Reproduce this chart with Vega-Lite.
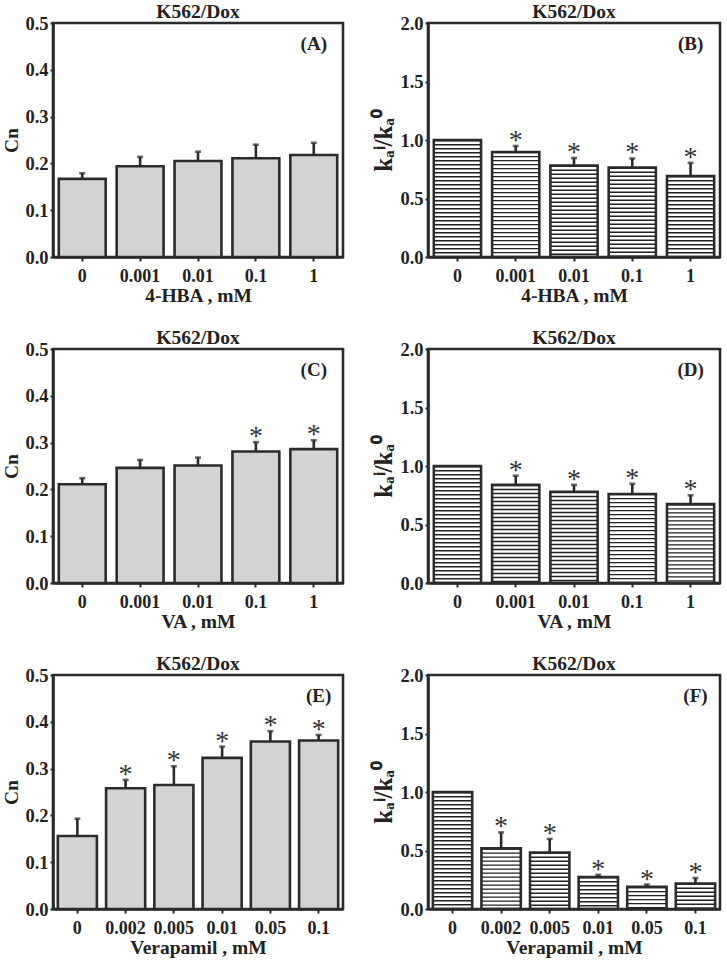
{
  "$schema": "https://vega.github.io/schema/vega-lite/v6.json",
  "background": "white",
  "padding": {"left": 0, "top": 0, "right": 5, "bottom": 0},
  "datasets": {
    "cn": [
      {"panel": "A", "conc": "0", "v": 0.167, "e": 0.179, "sig": false},
      {"panel": "A", "conc": "0.001", "v": 0.194, "e": 0.214, "sig": false},
      {"panel": "A", "conc": "0.01", "v": 0.205, "e": 0.225, "sig": false},
      {"panel": "A", "conc": "0.1", "v": 0.211, "e": 0.240, "sig": false},
      {"panel": "A", "conc": "1", "v": 0.218, "e": 0.244, "sig": false},
      {"panel": "C", "conc": "0", "v": 0.211, "e": 0.224, "sig": false},
      {"panel": "C", "conc": "0.001", "v": 0.246, "e": 0.263, "sig": false},
      {"panel": "C", "conc": "0.01", "v": 0.251, "e": 0.268, "sig": false},
      {"panel": "C", "conc": "0.1", "v": 0.281, "e": 0.301, "sig": true},
      {"panel": "C", "conc": "1", "v": 0.286, "e": 0.305, "sig": true},
      {"panel": "E", "conc": "0", "v": 0.156, "e": 0.193, "sig": false},
      {"panel": "E", "conc": "0.002", "v": 0.258, "e": 0.276, "sig": true},
      {"panel": "E", "conc": "0.005", "v": 0.265, "e": 0.305, "sig": true},
      {"panel": "E", "conc": "0.01", "v": 0.323, "e": 0.347, "sig": true},
      {"panel": "E", "conc": "0.05", "v": 0.358, "e": 0.380, "sig": true},
      {"panel": "E", "conc": "0.1", "v": 0.360, "e": 0.372, "sig": true}
    ],
    "ka": [
      {"panel": "B", "conc": "0", "v": 1.0, "e": null, "sig": false},
      {"panel": "B", "conc": "0.001", "v": 0.898, "e": 0.949, "sig": true},
      {"panel": "B", "conc": "0.01", "v": 0.782, "e": 0.847, "sig": true},
      {"panel": "B", "conc": "0.1", "v": 0.765, "e": 0.842, "sig": true},
      {"panel": "B", "conc": "1", "v": 0.692, "e": 0.805, "sig": true},
      {"panel": "D", "conc": "0", "v": 1.0, "e": null, "sig": false},
      {"panel": "D", "conc": "0.001", "v": 0.839, "e": 0.917, "sig": true},
      {"panel": "D", "conc": "0.01", "v": 0.780, "e": 0.839, "sig": true},
      {"panel": "D", "conc": "0.1", "v": 0.761, "e": 0.848, "sig": true},
      {"panel": "D", "conc": "1", "v": 0.674, "e": 0.750, "sig": true},
      {"panel": "F", "conc": "0", "v": 1.0, "e": null, "sig": false},
      {"panel": "F", "conc": "0.002", "v": 0.518, "e": 0.655, "sig": true},
      {"panel": "F", "conc": "0.005", "v": 0.482, "e": 0.599, "sig": true},
      {"panel": "F", "conc": "0.01", "v": 0.273, "e": 0.292, "sig": true},
      {"panel": "F", "conc": "0.05", "v": 0.189, "e": 0.209, "sig": true},
      {"panel": "F", "conc": "0.1", "v": 0.217, "e": 0.265, "sig": true}
    ]
  },
  "spacing": 20,
  "vconcat": [
    {
      "spacing": 25,
      "hconcat": [
        {
          "width": 290, "height": 234,
          "title": {"text": "K562/Dox"},
          "data": {"name": "cn"},
          "transform": [{"filter": "datum.panel === 'A'"}],
          "encoding": {"x": {"field": "conc", "type": "nominal", "sort": null, "scale": {"paddingInner": 0.19, "paddingOuter": 0.1}, "axis": {"title": "4-HBA , mM"}}},
          "layer": [
            {"mark": {"type": "bar", "fill": "#d3d3d3", "stroke": "#2b2b2b", "strokeWidth": 2.6},
             "encoding": {"y": {"field": "v", "type": "quantitative", "scale": {"domain": [0, 0.5]},
               "axis": {"title": "Cn", "values": [0, 0.05, 0.1, 0.15, 0.2, 0.25, 0.3, 0.35, 0.4, 0.45, 0.5],
                 "labelExpr": "abs(datum.value*10 - round(datum.value*10)) > 0.01 ? '' : format(datum.value, '.1f')",
                 "tickSize": {"condition": {"test": "abs(datum.value*10 - round(datum.value*10)) > 0.01", "value": 2}, "value": 3}}}}},
            {"mark": {"type": "rule", "strokeWidth": 2.6, "color": "#2b2b2b"},
             "encoding": {"y": {"field": "v", "type": "quantitative"}, "y2": {"field": "e"}}},
            {"mark": {"type": "tick", "size": 6, "thickness": 2.6, "color": "#2b2b2b"},
             "encoding": {"y": {"field": "e", "type": "quantitative"}}},
            {"transform": [{"filter": "datum.sig"}],
             "mark": {"type": "text", "text": "*", "fontSize": 28, "fontWeight": "normal", "baseline": "alphabetic", "dy": 3, "fill": "#333"},
             "encoding": {"y": {"field": "e", "type": "quantitative"}}},
            {"data": {"values": [{"label": "(A)"}]},
             "mark": {"type": "text", "fontSize": 19, "fontWeight": "bold", "baseline": "middle", "fill": "#222"},
             "encoding": {"x": {"datum": "1"}, "y": {"datum": 0.455, "type": "quantitative"}, "text": {"field": "label"}}}
          ]
        },
        {
          "width": 292, "height": 234,
          "title": {"text": "K562/Dox"},
          "data": {"name": "ka"},
          "transform": [{"filter": "datum.panel === 'B'"}],
          "encoding": {"x": {"field": "conc", "type": "nominal", "sort": null, "scale": {"paddingInner": 0.19, "paddingOuter": 0.1}, "axis": {"title": "4-HBA , mM"}}},
          "layer": [
            {"mark": {"type": "rule", "strokeWidth": 47, "strokeDash": [1.4, 2.6], "strokeCap": "butt", "color": "#222"},
             "encoding": {"y": {"field": "v", "type": "quantitative", "scale": {"domain": [0, 2]},
               "axis": {"title": "kₐⁱ/kₐ⁰", "titleFontSize": 25, "values": [0, 0.25, 0.5, 0.75, 1, 1.25, 1.5, 1.75, 2],
                 "labelExpr": "abs(datum.value*2 - round(datum.value*2)) > 0.01 ? '' : format(datum.value, '.1f')",
                 "tickSize": {"condition": {"test": "abs(datum.value*2 - round(datum.value*2)) > 0.01", "value": 2}, "value": 3}}},
               "y2": {"datum": 0}}},
            {"mark": {"type": "bar", "fill": "white", "fillOpacity": 0, "stroke": "#2b2b2b", "strokeWidth": 2.6},
             "encoding": {"y": {"field": "v", "type": "quantitative"}}},
            {"mark": {"type": "rule", "strokeWidth": 2.6, "color": "#2b2b2b"},
             "encoding": {"y": {"field": "v", "type": "quantitative"}, "y2": {"field": "e"}}},
            {"mark": {"type": "tick", "size": 6, "thickness": 2.6, "color": "#2b2b2b"},
             "encoding": {"y": {"field": "e", "type": "quantitative"}}},
            {"transform": [{"filter": "datum.sig"}],
             "mark": {"type": "text", "text": "*", "fontSize": 28, "fontWeight": "normal", "baseline": "alphabetic", "dy": 3, "fill": "#333"},
             "encoding": {"y": {"field": "e", "type": "quantitative"}}},
            {"data": {"values": [{"label": "(B)"}]},
             "mark": {"type": "text", "fontSize": 19, "fontWeight": "bold", "baseline": "middle", "fill": "#222"},
             "encoding": {"x": {"datum": "1"}, "y": {"datum": 1.82, "type": "quantitative"}, "text": {"field": "label"}}}
          ]
        }
      ]
    },
    {
      "spacing": 25,
      "hconcat": [
        {
          "width": 290, "height": 234,
          "title": {"text": "K562/Dox"},
          "data": {"name": "cn"},
          "transform": [{"filter": "datum.panel === 'C'"}],
          "encoding": {"x": {"field": "conc", "type": "nominal", "sort": null, "scale": {"paddingInner": 0.19, "paddingOuter": 0.1}, "axis": {"title": "VA , mM"}}},
          "layer": [
            {"mark": {"type": "bar", "fill": "#d3d3d3", "stroke": "#2b2b2b", "strokeWidth": 2.6},
             "encoding": {"y": {"field": "v", "type": "quantitative", "scale": {"domain": [0, 0.5]},
               "axis": {"title": "Cn", "values": [0, 0.05, 0.1, 0.15, 0.2, 0.25, 0.3, 0.35, 0.4, 0.45, 0.5],
                 "labelExpr": "abs(datum.value*10 - round(datum.value*10)) > 0.01 ? '' : format(datum.value, '.1f')",
                 "tickSize": {"condition": {"test": "abs(datum.value*10 - round(datum.value*10)) > 0.01", "value": 2}, "value": 3}}}}},
            {"mark": {"type": "rule", "strokeWidth": 2.6, "color": "#2b2b2b"},
             "encoding": {"y": {"field": "v", "type": "quantitative"}, "y2": {"field": "e"}}},
            {"mark": {"type": "tick", "size": 6, "thickness": 2.6, "color": "#2b2b2b"},
             "encoding": {"y": {"field": "e", "type": "quantitative"}}},
            {"transform": [{"filter": "datum.sig"}],
             "mark": {"type": "text", "text": "*", "fontSize": 28, "fontWeight": "normal", "baseline": "alphabetic", "dy": 3, "fill": "#333"},
             "encoding": {"y": {"field": "e", "type": "quantitative"}}},
            {"data": {"values": [{"label": "(C)"}]},
             "mark": {"type": "text", "fontSize": 19, "fontWeight": "bold", "baseline": "middle", "fill": "#222"},
             "encoding": {"x": {"datum": "1"}, "y": {"datum": 0.455, "type": "quantitative"}, "text": {"field": "label"}}}
          ]
        },
        {
          "width": 292, "height": 234,
          "title": {"text": "K562/Dox"},
          "data": {"name": "ka"},
          "transform": [{"filter": "datum.panel === 'D'"}],
          "encoding": {"x": {"field": "conc", "type": "nominal", "sort": null, "scale": {"paddingInner": 0.19, "paddingOuter": 0.1}, "axis": {"title": "VA , mM"}}},
          "layer": [
            {"mark": {"type": "rule", "strokeWidth": 47, "strokeDash": [1.4, 2.6], "strokeCap": "butt", "color": "#222"},
             "encoding": {"y": {"field": "v", "type": "quantitative", "scale": {"domain": [0, 2]},
               "axis": {"title": "kₐⁱ/kₐ⁰", "titleFontSize": 25, "values": [0, 0.25, 0.5, 0.75, 1, 1.25, 1.5, 1.75, 2],
                 "labelExpr": "abs(datum.value*2 - round(datum.value*2)) > 0.01 ? '' : format(datum.value, '.1f')",
                 "tickSize": {"condition": {"test": "abs(datum.value*2 - round(datum.value*2)) > 0.01", "value": 2}, "value": 3}}},
               "y2": {"datum": 0}}},
            {"mark": {"type": "bar", "fill": "white", "fillOpacity": 0, "stroke": "#2b2b2b", "strokeWidth": 2.6},
             "encoding": {"y": {"field": "v", "type": "quantitative"}}},
            {"mark": {"type": "rule", "strokeWidth": 2.6, "color": "#2b2b2b"},
             "encoding": {"y": {"field": "v", "type": "quantitative"}, "y2": {"field": "e"}}},
            {"mark": {"type": "tick", "size": 6, "thickness": 2.6, "color": "#2b2b2b"},
             "encoding": {"y": {"field": "e", "type": "quantitative"}}},
            {"transform": [{"filter": "datum.sig"}],
             "mark": {"type": "text", "text": "*", "fontSize": 28, "fontWeight": "normal", "baseline": "alphabetic", "dy": 3, "fill": "#333"},
             "encoding": {"y": {"field": "e", "type": "quantitative"}}},
            {"data": {"values": [{"label": "(D)"}]},
             "mark": {"type": "text", "fontSize": 19, "fontWeight": "bold", "baseline": "middle", "fill": "#222"},
             "encoding": {"x": {"datum": "1"}, "y": {"datum": 1.82, "type": "quantitative"}, "text": {"field": "label"}}}
          ]
        }
      ]
    },
    {
      "spacing": 25,
      "hconcat": [
        {
          "width": 290, "height": 234,
          "title": {"text": "K562/Dox"},
          "data": {"name": "cn"},
          "transform": [{"filter": "datum.panel === 'E'"}],
          "encoding": {"x": {"field": "conc", "type": "nominal", "sort": null, "scale": {"paddingInner": 0.19, "paddingOuter": 0.1}, "axis": {"title": "Verapamil , mM"}}},
          "layer": [
            {"mark": {"type": "bar", "fill": "#d3d3d3", "stroke": "#2b2b2b", "strokeWidth": 2.6},
             "encoding": {"y": {"field": "v", "type": "quantitative", "scale": {"domain": [0, 0.5]},
               "axis": {"title": "Cn", "values": [0, 0.05, 0.1, 0.15, 0.2, 0.25, 0.3, 0.35, 0.4, 0.45, 0.5],
                 "labelExpr": "abs(datum.value*10 - round(datum.value*10)) > 0.01 ? '' : format(datum.value, '.1f')",
                 "tickSize": {"condition": {"test": "abs(datum.value*10 - round(datum.value*10)) > 0.01", "value": 2}, "value": 3}}}}},
            {"mark": {"type": "rule", "strokeWidth": 2.6, "color": "#2b2b2b"},
             "encoding": {"y": {"field": "v", "type": "quantitative"}, "y2": {"field": "e"}}},
            {"mark": {"type": "tick", "size": 6, "thickness": 2.6, "color": "#2b2b2b"},
             "encoding": {"y": {"field": "e", "type": "quantitative"}}},
            {"transform": [{"filter": "datum.sig"}],
             "mark": {"type": "text", "text": "*", "fontSize": 28, "fontWeight": "normal", "baseline": "alphabetic", "dy": 3, "fill": "#333"},
             "encoding": {"y": {"field": "e", "type": "quantitative"}}},
            {"data": {"values": [{"label": "(E)"}]},
             "mark": {"type": "text", "fontSize": 19, "fontWeight": "bold", "baseline": "middle", "fill": "#222"},
             "encoding": {"x": {"datum": "0.1"}, "y": {"datum": 0.455, "type": "quantitative"}, "text": {"field": "label"}}}
          ]
        },
        {
          "width": 292, "height": 234,
          "title": {"text": "K562/Dox"},
          "data": {"name": "ka"},
          "transform": [{"filter": "datum.panel === 'F'"}],
          "encoding": {"x": {"field": "conc", "type": "nominal", "sort": null, "scale": {"paddingInner": 0.19, "paddingOuter": 0.1}, "axis": {"title": "Verapamil , mM"}}},
          "layer": [
            {"mark": {"type": "rule", "strokeWidth": 39, "strokeDash": [1.4, 2.6], "strokeCap": "butt", "color": "#222"},
             "encoding": {"y": {"field": "v", "type": "quantitative", "scale": {"domain": [0, 2]},
               "axis": {"title": "kₐⁱ/kₐ⁰", "titleFontSize": 25, "values": [0, 0.25, 0.5, 0.75, 1, 1.25, 1.5, 1.75, 2],
                 "labelExpr": "abs(datum.value*2 - round(datum.value*2)) > 0.01 ? '' : format(datum.value, '.1f')",
                 "tickSize": {"condition": {"test": "abs(datum.value*2 - round(datum.value*2)) > 0.01", "value": 2}, "value": 3}}},
               "y2": {"datum": 0}}},
            {"mark": {"type": "bar", "fill": "white", "fillOpacity": 0, "stroke": "#2b2b2b", "strokeWidth": 2.6},
             "encoding": {"y": {"field": "v", "type": "quantitative"}}},
            {"mark": {"type": "rule", "strokeWidth": 2.6, "color": "#2b2b2b"},
             "encoding": {"y": {"field": "v", "type": "quantitative"}, "y2": {"field": "e"}}},
            {"mark": {"type": "tick", "size": 6, "thickness": 2.6, "color": "#2b2b2b"},
             "encoding": {"y": {"field": "e", "type": "quantitative"}}},
            {"transform": [{"filter": "datum.sig"}],
             "mark": {"type": "text", "text": "*", "fontSize": 28, "fontWeight": "normal", "baseline": "alphabetic", "dy": 3, "fill": "#333"},
             "encoding": {"y": {"field": "e", "type": "quantitative"}}},
            {"data": {"values": [{"label": "(F)"}]},
             "mark": {"type": "text", "fontSize": 19, "fontWeight": "bold", "baseline": "middle", "fill": "#222"},
             "encoding": {"x": {"datum": "0.1"}, "y": {"datum": 1.82, "type": "quantitative"}, "text": {"field": "label"}}}
          ]
        }
      ]
    }
  ],
  "config": {
    "font": "Liberation Serif",
    "view": {"stroke": "#2b2b2b", "strokeWidth": 2.6},
    "text": {"font": "Liberation Serif"},
    "axis": {
      "grid": false,
      "labelFont": "Liberation Serif", "labelFontWeight": "bold", "labelColor": "#222",
      "titleFont": "Liberation Serif", "titleFontWeight": "bold", "titleColor": "#222", "titleFontSize": 19.5,
      "domainColor": "#2b2b2b", "domainWidth": 2.6,
      "tickColor": "#2b2b2b", "tickWidth": 2,
      "labelOverlap": false, "labelFlush": false
    },
    "axisX": {"labelAngle": 0, "labelFontSize": 18, "tickSize": 4, "labelPadding": 6, "titlePadding": 1},
    "axisY": {"labelFontSize": 18.5, "labelPadding": 2, "titlePadding": 3},
    "title": {"font": "Liberation Serif", "fontWeight": "bold", "fontSize": 19.5, "color": "#222", "offset": -8, "frame": "group"}
  }
}
